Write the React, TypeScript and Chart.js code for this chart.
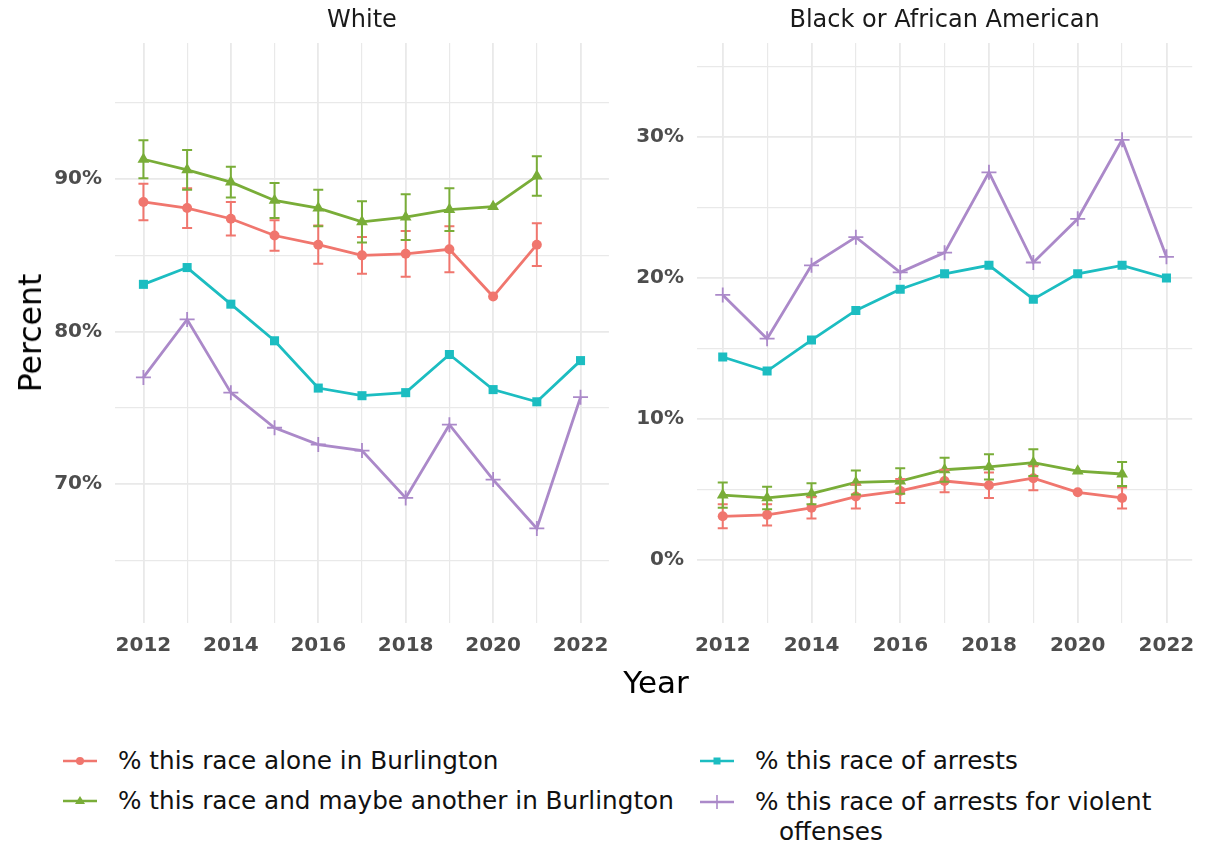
import React, { useEffect, useRef } from 'react';
import { Chart, registerables } from 'chart.js';

Chart.register(...registerables);

const years = [2012, 2013, 2014, 2015, 2016, 2017, 2018, 2019, 2020, 2021, 2022];

const seriesNames = [
  '% this race alone in Burlington',
  '% this race and maybe another in Burlington',
  '% this race of arrests',
  '% this race of arrests for violent offenses',
];
const seriesColors = ['#F0766E', '#79AD38', '#1CBDC1', '#AB89C9'];

// White panel
const whiteAlone = [88.5, 88.1, 87.4, 86.3, 85.7, 85.0, 85.1, 85.4, 82.3, 85.7, null];
const whiteAloneErr = [1.2, 1.3, 1.1, 1.0, 1.25, 1.2, 1.5, 1.5, null, 1.4, null];
const whiteMulti = [91.3, 90.6, 89.8, 88.6, 88.1, 87.2, 87.5, 88.0, 88.2, 90.2, null];
const whiteMultiErr = [1.25, 1.3, 1.0, 1.15, 1.2, 1.35, 1.5, 1.4, null, 1.3, null];
const whiteArrests = [83.1, 84.2, 81.8, 79.4, 76.3, 75.8, 76.0, 78.5, 76.2, 75.4, 78.1];
const whiteViolent = [77.0, 80.8, 76.0, 73.7, 72.6, 72.2, 69.1, 73.9, 70.3, 67.1, 75.7];

// Black or African American panel
const blackAlone = [3.1, 3.2, 3.7, 4.5, 4.9, 5.6, 5.3, 5.8, 4.8, 4.4, null];
const blackAloneErr = [0.85, 0.75, 0.75, 0.85, 0.85, 0.8, 0.9, 0.85, null, 0.75, null];
const blackMulti = [4.6, 4.4, 4.7, 5.5, 5.6, 6.4, 6.6, 6.9, 6.3, 6.1, null];
const blackMultiErr = [0.9, 0.8, 0.75, 0.85, 0.9, 0.85, 0.9, 0.95, null, 0.85, null];
const blackArrests = [14.4, 13.4, 15.6, 17.7, 19.2, 20.3, 20.9, 18.5, 20.3, 20.9, 20.0];
const blackViolent = [18.8, 15.7, 20.9, 22.9, 20.4, 21.8, 27.5, 21.1, 24.2, 29.8, 21.5];

const FONT = "'DejaVu Sans', 'Noto Sans', sans-serif";

const errorBarPlugin = {
  id: 'errorBars',
  afterDatasetsDraw(chart: any) {
    const { ctx } = chart;
    const xs = chart.scales.x;
    const ys = chart.scales.y;
    chart.data.datasets.forEach((ds: any, i: number) => {
      if (!ds.errors) return;
      const meta = chart.getDatasetMeta(i);
      if (meta.hidden) return;
      ctx.save();
      ctx.strokeStyle = ds.borderColor;
      ctx.lineWidth = 2;
      ds.data.forEach((pt: any, j: number) => {
        const e = ds.errors[j];
        if (e == null || pt.y == null) return;
        const px = xs.getPixelForValue(pt.x);
        const top = ys.getPixelForValue(pt.y + e);
        const bot = ys.getPixelForValue(pt.y - e);
        const cap = 5;
        ctx.beginPath();
        ctx.moveTo(px, top);
        ctx.lineTo(px, bot);
        ctx.moveTo(px - cap, top);
        ctx.lineTo(px + cap, top);
        ctx.moveTo(px - cap, bot);
        ctx.lineTo(px + cap, bot);
        ctx.stroke();
      });
      ctx.restore();
    });
  },
};

type PanelProps = {
  title: string;
  alone: (number | null)[];
  aloneErr: (number | null)[];
  multi: (number | null)[];
  multiErr: (number | null)[];
  arrests: (number | null)[];
  violent: (number | null)[];
  yMin: number;
  yMax: number;
  xMin: number;
  xMax: number;
  left: number;
  width: number;
  yAxisWidth: number;
  padRight: number;
};

function toPoints(arr: (number | null)[]) {
  return years.map((x, i) => ({ x, y: arr[i] }));
}

function Panel(p: PanelProps) {
  const ref = useRef<HTMLCanvasElement | null>(null);
  useEffect(() => {
    if (!ref.current) return;
    const pointStyles = ['circle', 'triangle', 'rect', 'cross'];
    const radii = [5, 6.8, 6.4, 7.5];
    const values = [p.alone, p.multi, p.arrests, p.violent];
    const errs = [p.aloneErr, p.multiErr, null, null];
    const datasets = values.map((v, i) => ({
      label: seriesNames[i],
      data: toPoints(v),
      errors: errs[i],
      borderColor: seriesColors[i],
      backgroundColor: seriesColors[i],
      borderWidth: 2.8,
      pointStyle: pointStyles[i],
      pointRadius: radii[i],
      pointBorderWidth: i === 3 ? 1.8 : 0,
      pointBorderColor: seriesColors[i],
      pointBackgroundColor: seriesColors[i],
      tension: 0,
      fill: false,
    }));
    const gridColor = '#e9e9e9';
    const chart = new Chart(ref.current, {
      type: 'line',
      data: { datasets: datasets as any },
      plugins: [errorBarPlugin],
      options: {
        animation: false,
        responsive: false,
        devicePixelRatio: 1,
        layout: { padding: { left: 0, right: p.padRight, top: 0, bottom: 0 } },
        plugins: {
          legend: { display: false },
          tooltip: { enabled: false },
          title: {
            display: true,
            text: p.title,
            fullSize: false,
            color: '#1a1a1a',
            font: { family: FONT, size: 24, weight: 'normal' },
            padding: { top: 6.5, bottom: 7.7 },
          },
        },
        scales: {
          x: {
            type: 'linear',
            min: p.xMin,
            max: p.xMax,
            border: { display: false },
            grid: {
              color: gridColor,
              drawTicks: false,
              lineWidth: (c: any) => (c.tick && c.tick.value % 2 === 0 ? 1.8 : 1.2),
            },
            ticks: {
              stepSize: 1,
              includeBounds: false,
              autoSkip: false,
              maxRotation: 0,
              padding: 11,
              color: '#4d4d4d',
              font: { family: FONT, size: 20, weight: 'bold' },
              callback: (v: any) => (Number(v) % 2 === 0 ? String(v) : ''),
            },
            afterFit: (s: any) => {
              s.height = 77;
            },
          },
          y: {
            type: 'linear',
            min: p.yMin,
            max: p.yMax,
            border: { display: false },
            grid: {
              color: gridColor,
              drawTicks: false,
              lineWidth: (c: any) => (c.tick && c.tick.value % 10 === 0 ? 1.8 : 1.2),
            },
            ticks: {
              stepSize: 5,
              includeBounds: false,
              autoSkip: false,
              padding: 13,
              color: '#4d4d4d',
              font: { family: FONT, size: 20, weight: 'bold' },
              callback: (v: any) => (Math.round(Number(v)) % 10 === 0 ? `${Math.round(Number(v))}%` : ''),
            },
            afterFit: (s: any) => {
              s.width = p.yAxisWidth;
            },
          },
        },
      } as any,
    });
    return () => chart.destroy();
  }, []);
  return (
    <canvas
      ref={ref}
      width={p.width}
      height={700}
      style={{ position: 'absolute', left: p.left, top: 0, width: p.width, height: 700 }}
    />
  );
}

function Glyph({ i }: { i: number }) {
  const c = seriesColors[i];
  let marker: React.ReactNode = null;
  if (i === 0) marker = <circle cx={17} cy={9} r={4} fill={c} />;
  if (i === 1) marker = <polygon points="17,4 22,12 12,12" fill={c} />;
  if (i === 2) marker = <rect x={13.5} y={5.5} width={7} height={7} fill={c} />;
  if (i === 3)
    marker = (
      <g stroke={c} strokeWidth={1.6}>
        <line x1={17} y1={2} x2={17} y2={16} />
        <line x1={10} y1={9} x2={24} y2={9} />
      </g>
    );
  return (
    <svg width={34} height={18} style={{ display: 'block' }}>
      <line x1={0} y1={9} x2={34} y2={9} stroke={c} strokeWidth={2.5} />
      {marker}
    </svg>
  );
}

export default function App() {
  const legendText: React.CSSProperties = {
    position: 'absolute',
    fontFamily: FONT,
    fontSize: 24.7,
    lineHeight: '30px',
    color: '#111',
    whiteSpace: 'nowrap',
  };
  return (
    <div
      style={{
        position: 'absolute',
        left: 0,
        top: 0,
        width: 1206,
        height: 844,
        background: '#fff',
        overflow: 'hidden',
      }}
    >
      <Panel
        title="White"
        alone={whiteAlone}
        aloneErr={whiteAloneErr}
        multi={whiteMulti}
        multiErr={whiteMultiErr}
        arrests={whiteArrests}
        violent={whiteViolent}
        yMin={60.9}
        yMax={98.92}
        xMin={2011.35}
        xMax={2022.65}
        left={0}
        width={620}
        yAxisWidth={115}
        padRight={2}
      />
      <Panel
        title="Black or African American"
        alone={blackAlone}
        aloneErr={blackAloneErr}
        multi={blackMulti}
        multiErr={blackMultiErr}
        arrests={blackArrests}
        violent={blackViolent}
        yMin={-4.47}
        yMax={36.67}
        xMin={2011.42}
        xMax={2022.58}
        left={600}
        width={606}
        yAxisWidth={97}
        padRight={12}
      />
      <div
        style={{
          position: 'absolute',
          left: 30,
          top: 333,
          transform: 'translate(-50%, -50%) rotate(-90deg)',
          fontFamily: FONT,
          fontSize: 31.5,
          color: '#000',
          whiteSpace: 'nowrap',
        }}
      >
        Percent
      </div>
      <div
        style={{
          position: 'absolute',
          left: 656,
          top: 682,
          transform: 'translate(-50%, -50%)',
          fontFamily: FONT,
          fontSize: 31,
          color: '#000',
          whiteSpace: 'nowrap',
        }}
      >
        Year
      </div>
      <div style={{ position: 'absolute', left: 63, top: 752 }}>
        <Glyph i={0} />
      </div>
      <div style={{ ...legendText, left: 118, top: 746 }}>{seriesNames[0]}</div>
      <div style={{ position: 'absolute', left: 63, top: 792 }}>
        <Glyph i={1} />
      </div>
      <div style={{ ...legendText, left: 118, top: 786 }}>{seriesNames[1]}</div>
      <div style={{ position: 'absolute', left: 700, top: 752 }}>
        <Glyph i={2} />
      </div>
      <div style={{ ...legendText, left: 755, top: 746 }}>{seriesNames[2]}</div>
      <div style={{ position: 'absolute', left: 700, top: 793 }}>
        <Glyph i={3} />
      </div>
      <div style={{ ...legendText, left: 755, top: 787 }}>
        % this race of arrests for violent
        <br />
        <span style={{ marginLeft: 24 }}>offenses</span>
      </div>
    </div>
  );
}
